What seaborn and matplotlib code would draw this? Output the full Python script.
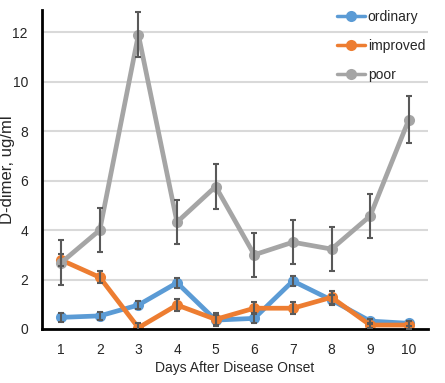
import numpy as np
import pandas as pd
import matplotlib
matplotlib.use('Agg')
import matplotlib.pyplot as plt
import seaborn as sns

days = [1, 2, 3, 4, 5, 6, 7, 8, 9, 10]
ordinary = [0.47, 0.53, 0.97, 1.87, 0.36, 0.43, 1.94, 1.17, 0.32, 0.23]
ordinary_err = [0.18, 0.15, 0.18, 0.2, 0.2, 0.2, 0.2, 0.2, 0.1, 0.1]
improved = [2.79, 2.09, 0.05, 0.97, 0.39, 0.84, 0.84, 1.28, 0.16, 0.16]
improved_err = [0.25, 0.25, 0.2, 0.25, 0.25, 0.25, 0.25, 0.25, 0.1, 0.15]
poor = [2.68, 4.0, 11.9, 4.32, 5.76, 3.0, 3.51, 3.23, 4.57, 8.46]
poor_err = [0.9, 0.9, 0.9, 0.9, 0.9, 0.9, 0.9, 0.9, 0.9, 0.95]

groups = ['ordinary', 'improved', 'poor']
palette = {'ordinary': '#5B9BD5', 'improved': '#ED7D31', 'poor': '#A5A5A5'}

df = pd.DataFrame({
    'day': days * 3,
    'value': ordinary + improved + poor,
    'err': ordinary_err + improved_err + poor_err,
    'group': ['ordinary'] * 10 + ['improved'] * 10 + ['poor'] * 10,
})

sns.set_style('white')
plt.rcParams['font.family'] = ['Liberation Sans', 'DejaVu Sans']

fig = plt.figure(figsize=(4.45, 3.83), dpi=100)
ax = fig.add_axes([0.094, 0.141, 0.868, 0.833])

for y in range(2, 13, 2):
    ax.axhline(y, color='#d9d9d9', lw=1.5, zorder=0)

sns.lineplot(data=df, x='day', y='value', hue='group', hue_order=groups,
             palette=palette, marker='o', markersize=8, markeredgewidth=0,
             linewidth=3.4, ax=ax, zorder=2)

for g in groups:
    sub = df[df['group'] == g]
    ax.errorbar(sub['day'], sub['value'], yerr=sub['err'], fmt='none',
                ecolor='#595959', elinewidth=1.5, capsize=2.5, capthick=1.5, zorder=3)

ax.set_xlim(0.5, 10.5)
ax.set_ylim(0, 12.9)
ax.set_xticks(days)
ax.set_yticks(range(0, 13, 2))
ax.tick_params(axis='y', length=0, labelsize=10, pad=10)
ax.tick_params(axis='x', length=0, labelsize=10, pad=10)
ax.set_xlabel('Days After Disease Onset', fontsize=10, labelpad=3)
ax.set_ylabel('D-dimer, ug/ml', fontsize=12)
ax.yaxis.set_label_coords(-0.07, 0.5)
for s in ['top', 'right']:
    ax.spines[s].set_visible(False)
for s in ['left', 'bottom']:
    ax.spines[s].set_color('black')
    ax.spines[s].set_linewidth(2)

leg = ax.legend(loc='upper right', bbox_to_anchor=(1.025, 1.04), frameon=False,
                fontsize=10, handlelength=2.0, handletextpad=0.2, labelspacing=1.1)
for h in leg.get_lines():
    h.set_linewidth(2.5)

fig.savefig('out.png', dpi=100)
